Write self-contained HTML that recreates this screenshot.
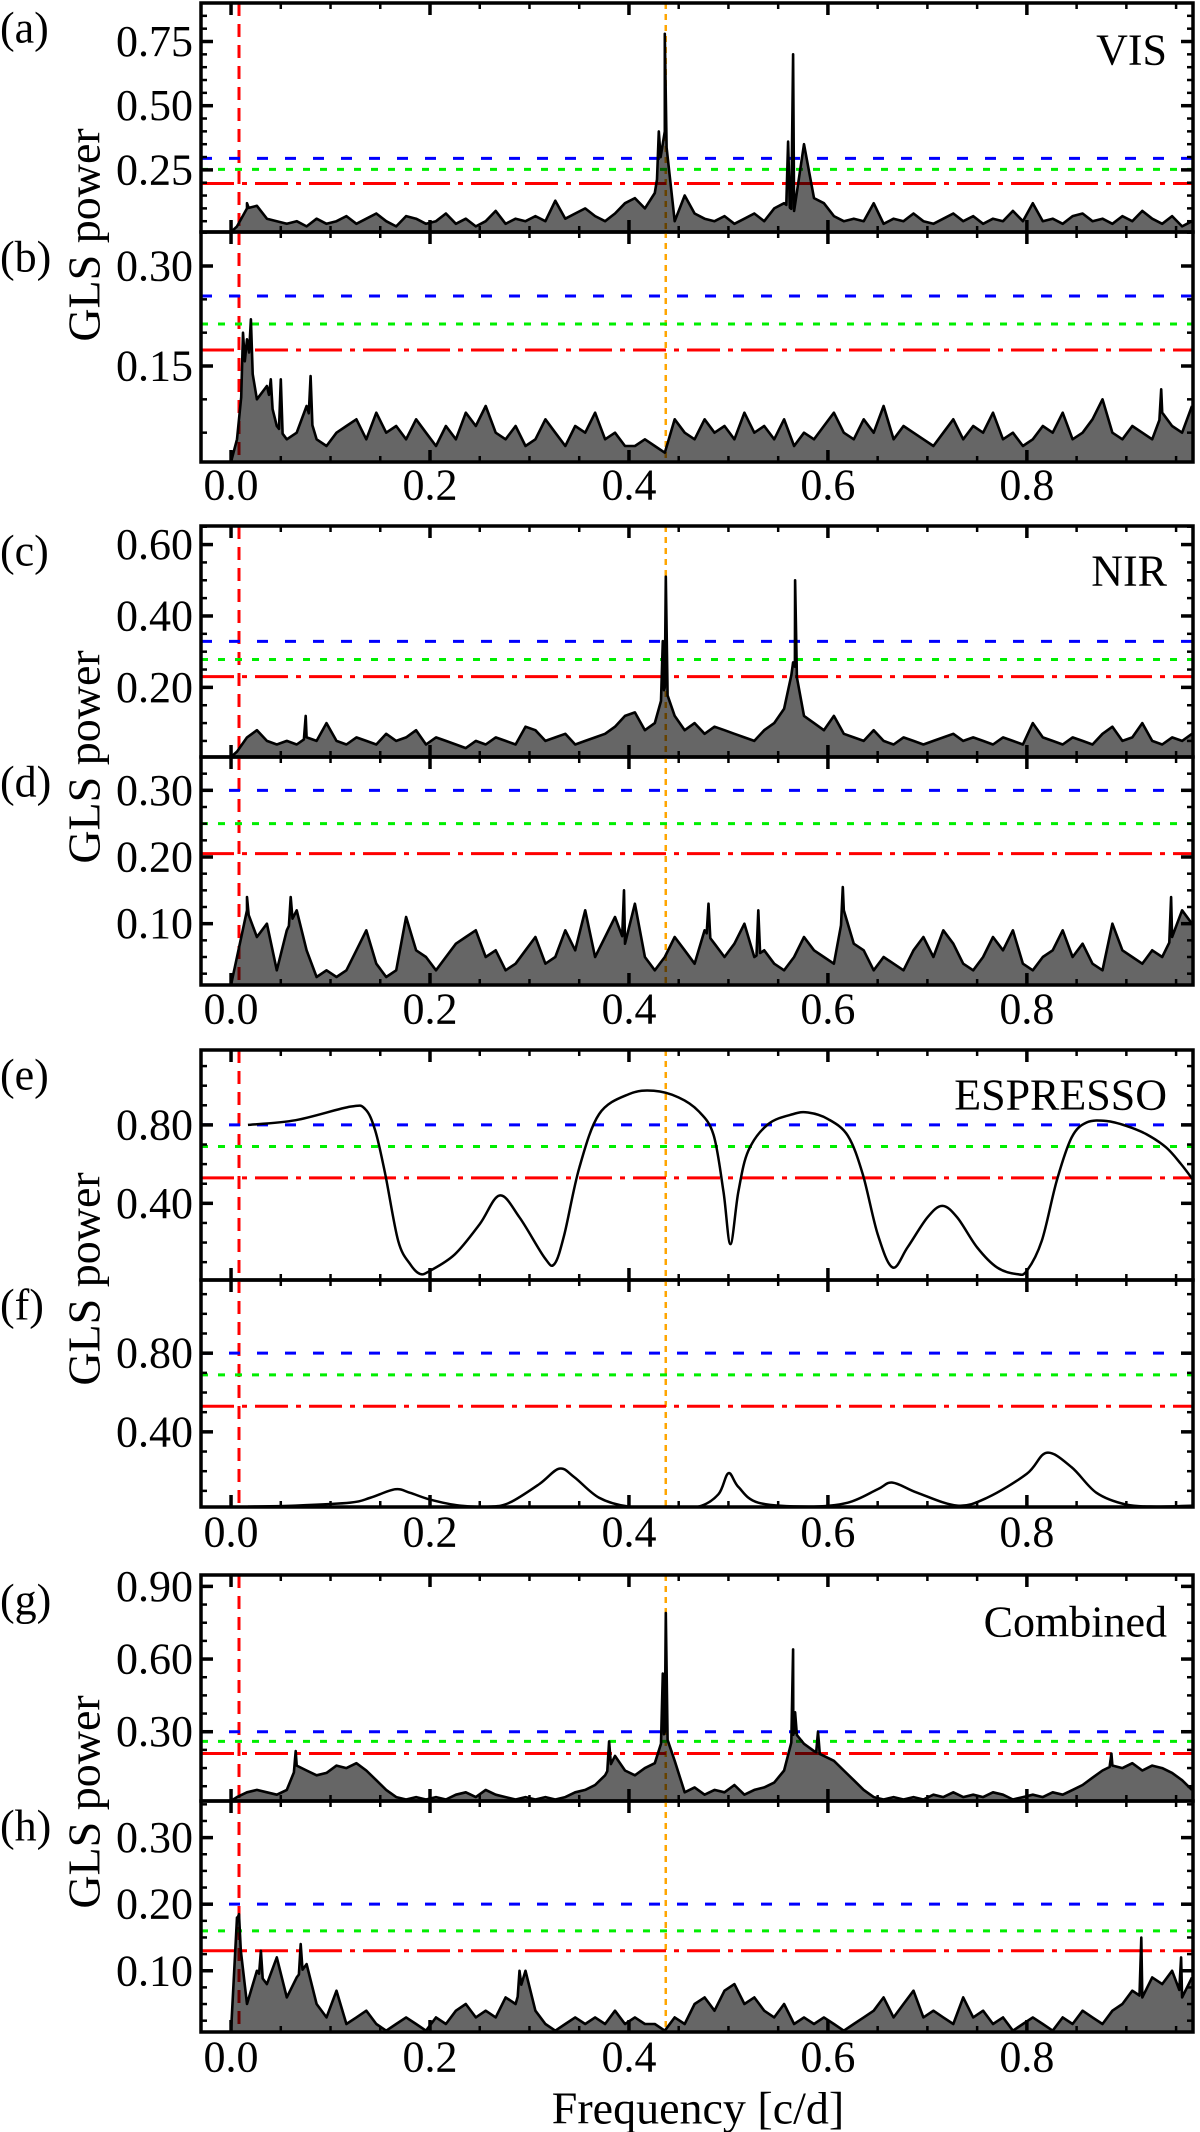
<!DOCTYPE html>
<html><head><meta charset="utf-8">
<style>
html,body{margin:0;padding:0;background:#fff;}
svg{display:block;}
svg text{font-family:"Liberation Serif","Times New Roman",serif;}
</style></head>
<body>
<svg id="chart" width="1200" height="2132" viewBox="0 0 1200 2132" xmlns="http://www.w3.org/2000/svg" font-family="Liberation Serif, serif"></svg>
<script>
// ---- data arrays ----
const freqStart = 0.006;
const freqStep = 0.01;
const xTickValues = [0.0, 0.2, 0.4, 0.6, 0.8];
const xTickLabels = ["0.0", "0.2", "0.4", "0.6", "0.8"];
const markerRedFreq = 0.008;
const markerOrangeFreq = 0.437;

const visPower = [.03,.10,.11,.06,.05,.04,.05,.03,.06,.04, .05,.07,.04,.06,.08,.05,.03,.07,.06,.04,
 .05,.08,.04,.06,.03,.05,.09,.04,.06,.05, .07,.05,.13,.06,.08,.10,.07,.05,.08,.12,
 .14,.10,.16,.40,.05,.15,.08,.06,.05,.07, .04,.06,.08,.05,.10,.12,.09,.35,.14,.12,
 .07,.05,.06,.05,.12,.04,.06,.05,.08,.05, .04,.06,.08,.05,.07,.04,.06,.05,.09,.05,
 .12,.05,.06,.04,.07,.08,.05,.06,.04,.07, .05,.09,.06,.04,.07,.03,.05];
const visSpikeFreq = [0.436,0.430,0.565,0.560,0.016];
const visSpikeVal = [0.78,0.40,0.70,0.36,0.12];

const visResPower = [.04,.19,.10,.12,.06,.04,.05,.09,.04,.03, .05,.06,.07,.04,.08,.05,.06,.04,.07,.05,
 .03,.06,.04,.08,.06,.09,.05,.04,.06,.03, .04,.07,.05,.03,.06,.05,.08,.04,.05,.03,
 .03,.04,.03,.02,.07,.05,.04,.07,.05,.06, .04,.08,.05,.06,.04,.07,.03,.05,.04,.06,
 .08,.05,.04,.07,.05,.09,.04,.06,.05,.04, .03,.05,.07,.04,.06,.05,.08,.04,.05,.03,
 .04,.06,.05,.08,.04,.05,.07,.10,.05,.04, .06,.05,.04,.08,.06,.05,.09];
const visResSpikeFreq = [0.020,0.012,0.040,0.050,0.080,0.935];
const visResSpikeVal = [0.22,0.20,0.13,0.13,0.135,0.115];

const nirPower = [.02,.06,.08,.05,.04,.05,.04,.06,.05,.10, .05,.04,.06,.05,.04,.07,.05,.06,.08,.04,
 .06,.05,.04,.03,.05,.04,.06,.05,.04,.09, .08,.05,.06,.07,.04,.05,.06,.07,.09,.12,
 .13,.08,.10,.20,.12,.08,.10,.07,.09,.08, .07,.06,.05,.08,.10,.14,.27,.12,.10,.08,
 .12,.07,.06,.05,.08,.05,.04,.06,.05,.04, .05,.06,.07,.05,.06,.05,.04,.06,.05,.04,
 .10,.06,.05,.04,.06,.05,.04,.07,.09,.05, .06,.10,.05,.04,.06,.05,.07];
const nirSpikeFreq = [0.437,0.434,0.567,0.565,0.075];
const nirSpikeVal = [0.51,0.33,0.50,0.27,0.12];

const nirResPower = [.05,.12,.08,.10,.03,.09,.12,.06,.02,.03, .02,.03,.06,.09,.04,.02,.03,.11,.06,.05,
 .03,.05,.07,.08,.09,.05,.06,.03,.04,.06, .08,.04,.05,.09,.06,.12,.05,.08,.11,.07,
 .13,.05,.03,.05,.08,.06,.04,.09,.07,.05, .07,.10,.05,.06,.04,.03,.05,.08,.06,.05,
 .04,.12,.07,.06,.03,.05,.04,.03,.06,.08, .05,.09,.07,.04,.03,.05,.08,.06,.09,.04,
 .03,.05,.06,.09,.05,.07,.04,.03,.10,.06, .05,.04,.06,.05,.08,.12,.10];
const nirResSpikeFreq = [0.016,0.060,0.395,0.480,0.530,0.615,0.945];
const nirResSpikeVal = [0.14,0.14,0.15,0.13,0.12,0.155,0.14];

const espFreq = [0.017,0.065,0.12,0.135,0.145,0.155,0.168,0.18,0.19,0.2,0.225,0.25,0.27,0.29,0.315,0.325,0.335,0.35,0.37,0.4,0.425,0.45,0.47,0.485,0.495,0.502,0.51,0.52,0.54,0.565,0.58,0.6,0.62,0.635,0.65,0.665,0.68,0.7,0.715,0.73,0.75,0.77,0.79,0.8,0.815,0.83,0.845,0.86,0.88,0.9,0.92,0.94,0.955,0.967];
const espPower = [0.80,0.824,0.893,0.88,0.77,0.549,0.209,0.09,0.04,0.056,0.14,0.294,0.44,0.328,0.124,0.09,0.24,0.58,0.855,0.957,0.974,0.94,0.87,0.75,0.46,0.192,0.46,0.668,0.804,0.855,0.863,0.83,0.745,0.549,0.243,0.073,0.175,0.328,0.387,0.328,0.175,0.073,0.039,0.056,0.209,0.515,0.736,0.812,0.82,0.795,0.753,0.685,0.60,0.52];

const espResFreq = [0.017,0.065,0.12,0.14,0.165,0.18,0.2,0.23,0.26,0.28,0.31,0.33,0.345,0.37,0.4,0.44,0.47,0.49,0.5,0.51,0.53,0.58,0.62,0.65,0.665,0.69,0.73,0.76,0.8,0.82,0.845,0.87,0.9,0.93,0.967];
const espResPower = [0.02,0.025,0.04,0.065,0.108,0.09,0.056,0.025,0.02,0.04,0.135,0.213,0.17,0.065,0.02,0.02,0.02,0.083,0.19,0.12,0.04,0.02,0.04,0.108,0.142,0.09,0.025,0.065,0.187,0.294,0.22,0.09,0.03,0.02,0.025];

const combPower = [.03,.05,.06,.05,.04,.06,.16,.14,.12,.13, .16,.15,.17,.14,.10,.06,.03,.02,.03,.02,
 .03,.02,.04,.05,.03,.06,.04,.03,.02,.03, .02,.03,.02,.03,.05,.06,.08,.12,.20,.14,
 .12,.15,.17,.30,.18,.05,.07,.04,.06,.05, .08,.04,.06,.07,.09,.14,.30,.25,.22,.20,
 .18,.14,.10,.06,.03,.02,.03,.02,.03,.02, .04,.03,.05,.03,.04,.03,.05,.04,.02,.03,
 .04,.03,.05,.04,.06,.08,.11,.14,.16,.15, .17,.14,.16,.15,.13,.10,.06];
const combSpikeFreq = [0.437,0.434,0.565,0.567,0.380,0.065,0.590,0.885];
const combSpikeVal = [0.79,0.54,0.64,0.38,0.26,0.22,0.30,0.21];

const combResPower = [.18,.05,.10,.08,.12,.06,.09,.11,.05,.03, .07,.02,.03,.04,.02,.01,.02,.03,.02,.01,
 .03,.02,.04,.05,.03,.04,.03,.06,.05,.10, .04,.02,.01,.02,.03,.02,.03,.02,.04,.02,
 .03,.02,.02,.01,.03,.02,.05,.06,.04,.07, .08,.05,.06,.04,.03,.05,.02,.03,.02,.03,
 .02,.01,.02,.03,.04,.06,.03,.05,.07,.03, .04,.03,.02,.06,.03,.04,.02,.03,.01,.02,
 .03,.02,.01,.03,.02,.04,.03,.02,.04,.05, .07,.06,.09,.08,.10,.06,.09];
const combResSpikeFreq = [0.008,0.030,0.070,0.290,0.915,0.955];
const combResSpikeVal = [0.185,0.13,0.14,0.10,0.15,0.12];

const thrA = [0.295,0.252,0.197], thrB = [0.255,0.213,0.174];
const thrC = [0.329,0.278,0.23], thrD = [0.30,0.25,0.205];
const thrE = [0.80,0.69,0.53], thrF = [0.80,0.69,0.53];
const thrG = [0.30,0.26,0.21], thrH = [0.20,0.16,0.13];

// ---- layout ----
const NS = "http://www.w3.org/2000/svg";
const FONT = '"Liberation Serif", "Times New Roman", serif';
const svg = document.getElementById("chart");
const X0 = 201, X1 = 1193, FMIN = -0.0302, FMAX = 0.967;
function xs(f){ return X0 + (f - FMIN) / (FMAX - FMIN) * (X1 - X0); }
function mk(tag, attrs, parent){ const e = document.createElementNS(NS, tag); for (const k in attrs) e.setAttribute(k, attrs[k]); if (tag === "text") e.style.fontFamily = FONT; (parent||svg).appendChild(e); return e; }
function interp(vals, f){ const t = (f - freqStart) / freqStep; const i = Math.max(0, Math.min(vals.length-2, Math.floor(t))); const u = Math.max(0, Math.min(1, t - i)); return vals[i]*(1-u) + vals[i+1]*u; }

const panels = [
 {id:"a", top:3, bot:232, ymin:0.008, ymax:0.9, majors:[0.25,0.5,0.75], minor:0.05, thr:thrA, kind:"noise", vals:visPower, sf:visSpikeFreq, sv:visSpikeVal, title:"VIS", tY:50},
 {id:"b", top:232, bot:462, ymin:0.006, ymax:0.351, majors:[0.15,0.30], minor:0.05, thr:thrB, kind:"noise", vals:visResPower, sf:visResSpikeFreq, sv:visResSpikeVal, xlab:485},
 {id:"c", top:526, bot:757, ymin:0.005, ymax:0.652, majors:[0.2,0.4,0.6], minor:0.05, thr:thrC, kind:"noise", vals:nirPower, sf:nirSpikeFreq, sv:nirSpikeVal, title:"NIR", tY:571},
 {id:"d", top:757, bot:985, ymin:0.008, ymax:0.35, majors:[0.1,0.2,0.3], minor:0.025, thr:thrD, kind:"noise", vals:nirResPower, sf:nirResSpikeFreq, sv:nirResSpikeVal, xlab:1009},
 {id:"e", top:1050, bot:1280, ymin:0.009, ymax:1.182, majors:[0.4,0.8], minor:0.1, thr:thrE, kind:"smooth", fx:espFreq, vals:espPower, title:"ESPRESSO", tY:1095},
 {id:"f", top:1280, bot:1507, ymin:0.018, ymax:1.172, majors:[0.4,0.8], minor:0.1, thr:thrF, kind:"smooth", fx:espResFreq, vals:espResPower, xlab:1532},
 {id:"g", top:1575, bot:1801, ymin:0.014, ymax:0.947, majors:[0.3,0.6,0.9], minor:0.075, thr:thrG, kind:"noise", vals:combPower, sf:combSpikeFreq, sv:combSpikeVal, title:"Combined", tY:1622},
 {id:"h", top:1801, bot:2032, ymin:0.008, ymax:0.355, majors:[0.1,0.2,0.3], minor:0.025, thr:thrH, kind:"noise", vals:combResPower, sf:combResSpikeFreq, sv:combResSpikeVal, xlab:2057}
];

const defs = mk("defs", {});
panels.forEach(p => {
  const cp = mk("clipPath", {id:"clip-"+p.id}, defs);
  mk("rect", {x:X0, y:p.top, width:X1-X0, height:p.bot-p.top}, cp);
});

panels.forEach(p => {
  const ys = v => p.bot - (v - p.ymin) / (p.ymax - p.ymin) * (p.bot - p.top);
  const g = mk("g", {"clip-path":"url(#clip-"+p.id+")"});
  
  

  const orange = mk("line", {x1:xs(markerOrangeFreq), x2:xs(markerOrangeFreq), y1:p.top, y2:p.bot, stroke:"#ffa500", "stroke-width":2.5, "stroke-dasharray":"6 5"}, g);
  
  
  const redv = mk("line", {x1:xs(markerRedFreq), x2:xs(markerRedFreq), y1:p.top, y2:p.bot, stroke:"#ff0000", "stroke-width":3, "stroke-dasharray":"13 8"}, g);
  
  

  const styles = [["#0000ff","11 17","fap-0.1-line"],["#00ee00","7 10","fap-1-line"],["#ff0000","33 8 5 8","fap-10-line"]];
  p.thr.forEach((t,i) => {
    const l = mk("line", {x1:X0, x2:X1, y1:ys(t), y2:ys(t), stroke:styles[i][0], "stroke-width":3, "stroke-dasharray":styles[i][1]}, g);
    
    
  });

  let d = "";
  if (p.kind === "noise") {
    const pts = p.vals.map((v,i) => [freqStart + i*freqStep, v]);
    p.sf.forEach((f,i) => {
      pts.push([f - 0.0018, interp(p.vals, f - 0.0018)]);
      pts.push([f, p.sv[i]]);
      pts.push([f + 0.0018, interp(p.vals, f + 0.0018)]);
    });
    pts.sort((a,b) => a[0]-b[0]);
    d = "M" + xs(0.0).toFixed(1) + "," + ys(p.ymin).toFixed(1) + " " + pts.map(q => "L" + xs(q[0]).toFixed(1) + "," + ys(q[1]).toFixed(1)).join(" ");
    const fillD = d + " L" + xs(FMAX).toFixed(1) + "," + ys(p.ymin).toFixed(1) + " Z";
    const area = mk("path", {d:fillD, fill:"#000", "fill-opacity":0.6, stroke:"none"}, g);
    
    
  } else {
    const P = p.fx.map((f,i) => [xs(f), ys(p.vals[i])]);
    d = "M" + P[0][0] + "," + P[0][1];
    for (let i = 0; i < P.length-1; i++) {
      const p0 = P[Math.max(0,i-1)], p1 = P[i], p2 = P[i+1], p3 = P[Math.min(P.length-1,i+2)];
      const c1 = [p1[0]+(p2[0]-p0[0])/6, p1[1]+(p2[1]-p0[1])/6];
      const c2 = [p2[0]-(p3[0]-p1[0])/6, p2[1]-(p3[1]-p1[1])/6];
      d += " C" + c1.join(",") + " " + c2.join(",") + " " + p2.join(",");
    }
  }
  const path = mk("path", {d:d, fill:"none", stroke:"#000", "stroke-width":p.kind==="noise"?2.6:2.5, "stroke-linejoin":"round"}, g);
  
  

  const frame = mk("rect", {x:X0, y:p.top, width:X1-X0, height:p.bot-p.top, fill:"none", stroke:"#000", "stroke-width":3.5});
  
  

  const tg = mk("g", {stroke:"#000"});
  
  
  for (let k = 0; k <= 19; k++) {
    const f = k*0.05; if (f > FMAX) break;
    const major = (k % 4 === 0);
    const L = major ? 12 : 6, w = major ? 3.5 : 2.5;
    mk("line", {x1:xs(f), x2:xs(f), y1:p.bot, y2:p.bot-L, "stroke-width":w}, tg);
    mk("line", {x1:xs(f), x2:xs(f), y1:p.top, y2:p.top+L, "stroke-width":w}, tg);
  }
  const n0 = Math.ceil(p.ymin / p.minor - 1e-6), n1 = Math.floor(p.ymax / p.minor + 1e-6);
  for (let k = n0; k <= n1; k++) {
    const v = k*p.minor;
    const major = p.majors.some(m => Math.abs(m - v) < 1e-6);
    const L = major ? 12 : 6, w = major ? 3.5 : 2.5;
    mk("line", {x1:X0, x2:X0+L, y1:ys(v), y2:ys(v), "stroke-width":w}, tg);
    mk("line", {x1:X1, x2:X1-L, y1:ys(v), y2:ys(v), "stroke-width":w}, tg);
  }
  p.majors.forEach(m => {
    const t = mk("text", {x:X0-8, y:ys(m), "font-size":44, "text-anchor":"end", "dominant-baseline":"central"});
    t.textContent = m.toFixed(2);
    
    
  });
  const pl = mk("text", {x:0, y:p.top+25, "font-size":44, "dominant-baseline":"central"});
  pl.textContent = "(" + p.id + ")";
  
  
  if (p.title) {
    const tt = mk("text", {x:1167, y:p.tY, "font-size":44, "text-anchor":"end", "dominant-baseline":"central"});
    tt.textContent = p.title;
    
    
  }
  if (p.xlab) {
    xTickValues.forEach((f,i) => {
      const t = mk("text", {x:xs(f), y:p.xlab, "font-size":44, "text-anchor":"middle", "dominant-baseline":"central"});
      t.textContent = xTickLabels[i];
      
      
    });
  }
});

[[235],[757],[1279],[1802]].forEach(r => {
  const t = mk("text", {x:0, y:0, "font-size":46, "text-anchor":"middle", "dominant-baseline":"central", transform:"translate(84," + r[0] + ") rotate(-90)"});
  t.textContent = "GLS power";
  
  
});
const xt = mk("text", {x:698, y:2108, "font-size":46, "text-anchor":"middle", "dominant-baseline":"central"});
xt.textContent = "Frequency [c/d]";


</script>
</body></html>
